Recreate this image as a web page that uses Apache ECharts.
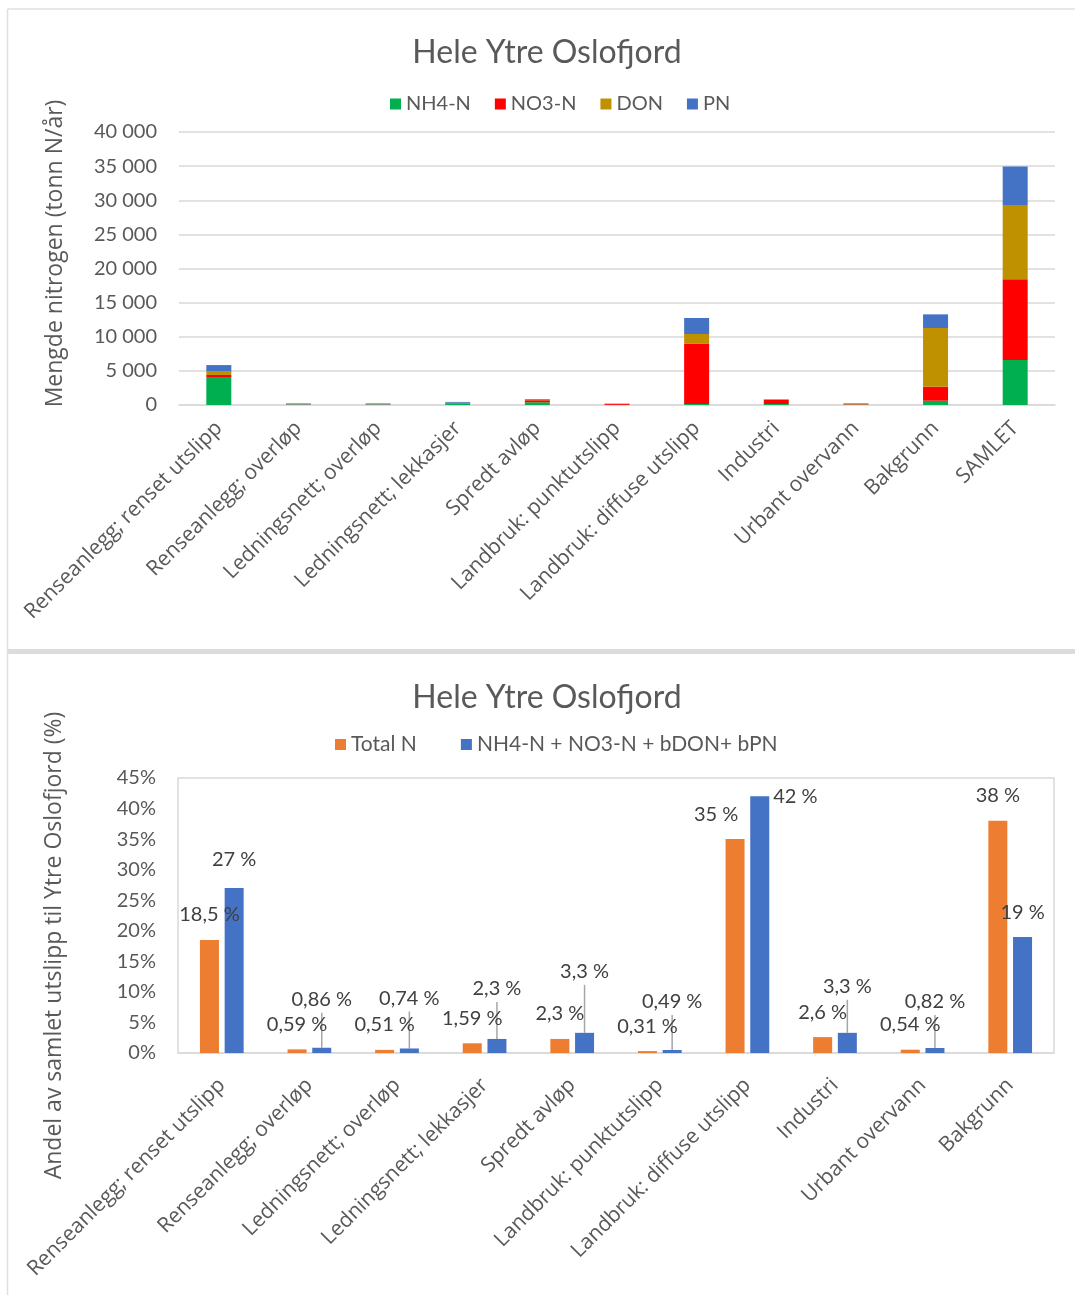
<!DOCTYPE html>
<html>
<head>
<meta charset="utf-8">
<title>Hele Ytre Oslofjord</title>
<script src="https://cdn.jsdelivr.net/npm/echarts@6.0.0/dist/echarts.min.js"></script>
<style>
  html, body { margin: 0; padding: 0; background: #fff; }
  #main { width: 1075px; height: 1295px; }
</style>
</head>
<body>
<div id="main"></div>
<script>
// kategorier (øverste figur har SAMLET i tillegg)
var kilder = ['Renseanlegg; renset utslipp', 'Renseanlegg; overløp', 'Ledningsnett; overløp', 'Ledningsnett; lekkasjer',
    'Spredt avløp', 'Landbruk: punktutslipp', 'Landbruk: diffuse utslipp', 'Industri', 'Urbant overvann', 'Bakgrunn'];
var kilderSamlet = kilder.concat(['SAMLET']);

// tonn N/år
var nh4 = [4100, 60, 60, 250, 400, 20, 150, 150, 40, 630, 6600];
var no3 = [300, 20, 20, 30, 300, 150, 8800, 600, 60, 2050, 11830];
var don = [500, 30, 30, 50, 80, 20, 1450, 80, 40, 8600, 10750];
var pn = [950, 120, 120, 120, 100, 20, 2350, 30, 100, 2000, 5760];

// andel i prosent
var totalN = [18.5, 0.59, 0.51, 1.59, 2.3, 0.31, 35, 2.6, 0.54, 38];
var bioN = [27, 0.86, 0.74, 2.3, 3.3, 0.49, 42, 3.3, 0.82, 19];

var yTicks = { min: 0, max: 40000, step: 5000 };
var pctTicks = { min: 0, max: 45, step: 5 };

// plassering av etiketter (avstand over stolpe, px)
var totalLabelDist = [15, 15, 15, 15, 15, 15, 15, 15, 15, 15];
var totalLabelDx = [0, 0, 0, 0, 0, 0, -19, 0, 0, 0];
var bioLabelDist = [18, 38, 40, 40, 51, 38, 0, 36, 36, 14];

var BAR_W = 19, BAR_GAP = 0.3;
var GREY = '#595959';
var NUM_FONT = 'Lato, "Noto Sans", sans-serif';
var TXT_FONT = '"Open Sans", "Noto Sans", sans-serif';

function tusen(v) {
    return String(v).replace(/\B(?=(\d{3})+(?!\d))/g, ' ');
}
function prosent(v) {
    return String(v).replace('.', ',') + ' %';
}

// blå serie: egne etiketter
var bioData = [];
for (var i = 0; i < bioN.length; i++) {
    var item = { value: bioN[i] };
    if (i === 6) {
        item.label = { position: ['100%', 0], align: 'left', verticalAlign: 'middle', offset: [4, 0] };
    } else {
        item.label = { distance: bioLabelDist[i] };
    }
    bioData.push(item);
}
var totalData = [];
for (var j = 0; j < totalN.length; j++) {
    totalData.push({ value: totalN[j], label: { distance: totalLabelDist[j], offset: [totalLabelDx[j], 0] } });
}
// hjelpelinjer fra etikett ned til stolpen
var guideData = [];
for (var k = 0; k < bioN.length; k++) {
    guideData.push([k, bioN[k], bioLabelDist[k]]);
}

var chart = echarts.init(document.getElementById('main'));
var option = {
    backgroundColor: '#fff',
    animation: false,
    title: [
        { text: 'Hele Ytre Oslofjord', left: 542, top: 32, textAlign: 'center',
          textStyle: { fontFamily: NUM_FONT, fontWeight: 'normal', fontSize: 32, color: GREY } },
        { text: 'Hele Ytre Oslofjord', left: 542, top: 677, textAlign: 'center',
          textStyle: { fontFamily: NUM_FONT, fontWeight: 'normal', fontSize: 32, color: GREY } }
    ],
    legend: [
        { data: ['NH4-N', 'NO3-N', 'DON', 'PN'], left: 385, top: 89, itemWidth: 11, itemHeight: 11, itemGap: 24,
          icon: 'rect', textStyle: { fontFamily: NUM_FONT, fontSize: 20, color: GREY } },
        { data: ['Total N', 'NH4-N + NO3-N + bDON+ bPN'], left: 330, top: 729, itemWidth: 11, itemHeight: 11, itemGap: 44,
          icon: 'rect', textStyle: { fontFamily: NUM_FONT, fontSize: 21, color: GREY } }
    ],
    grid: [
        { left: 179, right: 20, top: 132, height: 273 },
        { left: 178, right: 21, top: 778, height: 275, show: true, borderColor: '#d9d9d9', borderWidth: 1.5 }
    ],
    xAxis: [
        { type: 'category', gridIndex: 0, data: kilderSamlet,
          axisLine: { lineStyle: { color: '#d9d9d9', width: 1.5 } }, axisTick: { show: false },
          axisLabel: { interval: 0, rotate: 45, margin: 20, fontFamily: TXT_FONT, fontSize: 21, color: GREY } },
        { type: 'category', gridIndex: 1, data: kilder,
          axisLine: { lineStyle: { color: '#d9d9d9', width: 1.5 } }, axisTick: { show: false },
          axisLabel: { interval: 0, rotate: 45, margin: 29, fontFamily: TXT_FONT, fontSize: 21, color: GREY } },
        // for hjelpelinjene
        { type: 'value', gridIndex: 1, min: -0.5, max: kilder.length - 0.5, show: false }
    ],
    yAxis: [
        { type: 'value', gridIndex: 0, min: yTicks.min, max: yTicks.max, interval: yTicks.step,
          name: 'Mengde nitrogen (tonn N/år)', nameLocation: 'middle', nameGap: 112,
          nameTextStyle: { fontFamily: TXT_FONT, fontSize: 23, color: GREY, padding: [0, 0, 0, 30] },
          axisLine: { show: false }, axisTick: { show: false },
          splitLine: { lineStyle: { color: '#d9d9d9', width: 1.5 } },
          axisLabel: { margin: 22, fontFamily: NUM_FONT, fontSize: 20, color: GREY, formatter: tusen } },
        { type: 'value', gridIndex: 1, min: pctTicks.min, max: pctTicks.max, interval: pctTicks.step,
          name: 'Andel av samlet utslipp til Ytre Oslofjord (%)', nameLocation: 'middle', nameGap: 112,
          nameTextStyle: { fontFamily: TXT_FONT, fontSize: 23, color: GREY, padding: [0, 60, 0, 0] },
          axisLine: { show: false }, axisTick: { show: false }, splitLine: { show: false },
          axisLabel: { margin: 22, fontFamily: NUM_FONT, fontSize: 20, color: GREY, formatter: '{value}%' } }
    ],
    series: [
        { name: 'NH4-N', type: 'bar', stack: 'n', xAxisIndex: 0, yAxisIndex: 0, barWidth: 25, data: nh4, itemStyle: { color: '#00b050' } },
        { name: 'NO3-N', type: 'bar', stack: 'n', xAxisIndex: 0, yAxisIndex: 0, barWidth: 25, data: no3, itemStyle: { color: '#ff0000' } },
        { name: 'DON', type: 'bar', stack: 'n', xAxisIndex: 0, yAxisIndex: 0, barWidth: 25, data: don, itemStyle: { color: '#bf9000' } },
        { name: 'PN', type: 'bar', stack: 'n', xAxisIndex: 0, yAxisIndex: 0, barWidth: 25, data: pn, itemStyle: { color: '#4472c4' } },
        { name: 'Total N', type: 'bar', xAxisIndex: 1, yAxisIndex: 1, barWidth: BAR_W, barGap: (BAR_GAP * 100) + '%',
          data: totalData, itemStyle: { color: '#ed7d31' },
          label: { show: true, position: 'top', fontFamily: NUM_FONT, fontSize: 20, color: '#404040', formatter: function (p) { return prosent(p.value); } } },
        { name: 'NH4-N + NO3-N + bDON+ bPN', type: 'bar', xAxisIndex: 1, yAxisIndex: 1, barWidth: BAR_W, barGap: (BAR_GAP * 100) + '%',
          data: bioData, itemStyle: { color: '#4472c4' },
          label: { show: true, position: 'top', fontFamily: NUM_FONT, fontSize: 20, color: '#404040', formatter: function (p) { return prosent(p.value); } } },
        { type: 'custom', xAxisIndex: 2, yAxisIndex: 1, data: guideData, silent: true, z: 1,
          renderItem: function (params, api) {
              var lift = api.value(2);
              if (lift <= 30) return;
              var p = api.coord([api.value(0), api.value(1)]);
              var x = p[0] + BAR_W * (1 + BAR_GAP) / 2;
              return { type: 'line', shape: { x1: x, y1: p[1], x2: x, y2: p[1] - lift + 3 },
                       style: { stroke: '#a6a6a6', lineWidth: 1.5 } };
          } }
    ],
    // rammer rundt figurene
    graphic: [
        { type: 'line', shape: { x1: 7.5, y1: 9, x2: 1075, y2: 9 }, style: { stroke: '#e0e0e0', lineWidth: 1.5 } },
        { type: 'line', shape: { x1: 7.5, y1: 9, x2: 7.5, y2: 1295 }, style: { stroke: '#e0e0e0', lineWidth: 1.5 } },
        { type: 'rect', shape: { x: 7.5, y: 649, width: 1068, height: 5 }, style: { fill: '#dcdcdc' } }
    ]
};
chart.setOption(option);
</script>
</body>
</html>
